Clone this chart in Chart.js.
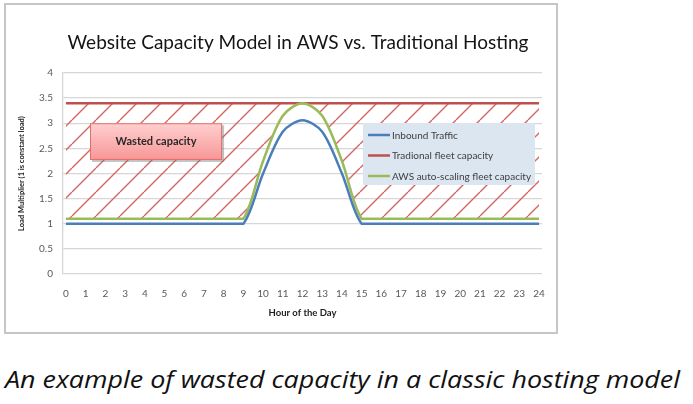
<!DOCTYPE html>
<html>
<head>
<meta charset="utf-8">
<script src="https://cdn.jsdelivr.net/npm/chart.js@4.4.1/dist/chart.umd.min.js"></script>
<style>
  html, body { margin: 0; padding: 0; background: #fff; }
  body { width: 693px; height: 404px; position: relative; overflow: hidden; }
  #frame { position: absolute; left: 4px; top: 3px; width: 550px; height: 327px; border: 2px solid #c6c6c6; }
  #wrap { position: absolute; left: 0; top: 0; width: 693px; height: 340px; }
  #caption { position: absolute; left: 5px; top: 362px; font-family: "Open Sans", Lato, sans-serif; font-style: italic; font-size: 24px; color: #111; white-space: nowrap; transform-origin: 0 0; }
</style>
</head>
<body>
<div id="frame"></div>
<div id="wrap"><canvas id="capacityChart"></canvas></div>
<div id="caption">An example of wasted capacity in a classic hosting model</div>
<script>
const hours = [0, 1, 2, 3, 4, 5, 6, 7, 8, 9, 10, 11, 12, 13, 14, 15, 16, 17, 18, 19, 20, 21, 22, 23, 24];
const inboundTraffic = [1, 1, 1, 1, 1, 1, 1, 1, 1, 1, 2.0, 2.83, 3.06, 2.83, 2.0, 1, 1, 1, 1, 1, 1, 1, 1, 1, 1];
const traditionalCapacity = [3.4, 3.4, 3.4, 3.4, 3.4, 3.4, 3.4, 3.4, 3.4, 3.4, 3.4, 3.4, 3.4, 3.4, 3.4, 3.4, 3.4, 3.4, 3.4, 3.4, 3.4, 3.4, 3.4, 3.4, 3.4];
const awsCapacity = [1.1, 1.1, 1.1, 1.1, 1.1, 1.1, 1.1, 1.1, 1.1, 1.1, 2.25, 3.15, 3.4, 3.15, 2.25, 1.1, 1.1, 1.1, 1.1, 1.1, 1.1, 1.1, 1.1, 1.1, 1.1];
const seriesLabels = ["Inbound Traffic", "Tradional fleet capacity", "AWS auto-scaling fleet capacity"];
const yTicks = [0, 0.5, 1, 1.5, 2, 2.5, 3, 3.5, 4];
const wastedLabel = "Wasted capacity";
const wastedBox = { x0: 1.22, x1: 7.92, y0: 2.27, y1: 3.0 };

const blue = "rgb(74,126,187)";
const red = "rgb(192,80,77)";
const green = "rgb(155,187,89)";
const fontFamily = "Lato, 'Liberation Sans', sans-serif";

// stretch the caption to the width it has in the picture
const caption = document.getElementById("caption");
caption.style.transform = "scaleX(" + (675 / caption.getBoundingClientRect().width) + ")";

// diagonal red hatching for the wasted area
function makeHatch() {
  const size = 24;
  const c = document.createElement("canvas");
  c.width = size;
  c.height = size;
  const g = c.getContext("2d");
  g.strokeStyle = "rgb(212,104,102)";
  g.lineWidth = 1.4;
  [-size, 0, size].forEach((k) => {
    g.beginPath();
    g.moveTo(k, size);
    g.lineTo(k + size, 0);
    g.stroke();
  });
  return g.createPattern(c, "repeat");
}

const toPoints = (arr) => arr.map((v, i) => ({ x: hours[i], y: v }));

// keep the curve from dipping where a flat run meets the ramp:
// the control point on the flat side is pulled onto the point itself
const sharpCorners = {
  id: "sharpCorners",
  beforeDatasetsDraw(chart) {
    chart.data.datasets.forEach((ds, i) => {
      const meta = chart.getDatasetMeta(i);
      if (!ds.tension) return;
      meta.dataset.updateControlPoints(chart.chartArea, "x");
      const pts = meta.data;
      pts.forEach((p, k) => {
        if (k > 0 && pts[k - 1].y === p.y) {
          p.cp1x = p.x;
          p.cp1y = p.y;
        }
        if (k < pts.length - 1 && pts[k + 1].y === p.y) {
          p.cp2x = p.x;
          p.cp2y = p.y;
        }
      });
    });
  },
};

const boxLegend = {
  id: "boxLegend",
  afterDatasetsDraw(chart) {
    const { ctx, chartArea } = chart;
    const left = chartArea.right - 179;
    const top = chartArea.top + 50;
    ctx.save();
    ctx.fillStyle = "rgb(220,230,241)";
    ctx.fillRect(left, top, 172, 62);
    ctx.font = "10px " + fontFamily;
    ctx.textBaseline = "middle";
    chart.data.datasets.forEach((ds, i) => {
      const y = top + 12 + i * 20.5;
      ctx.strokeStyle = ds.borderColor;
      ctx.lineWidth = 2.5;
      ctx.beginPath();
      ctx.moveTo(left + 5, y);
      ctx.lineTo(left + 27, y);
      ctx.stroke();
      ctx.fillStyle = "rgb(64,64,64)";
      ctx.fillText(ds.label, left + 29, y + 0.5);
    });
    ctx.restore();
  },
};

const wastedNote = {
  id: "wastedNote",
  afterDatasetsDraw(chart) {
    const { ctx, scales } = chart;
    const x0 = scales.x.getPixelForValue(wastedBox.x0);
    const x1 = scales.x.getPixelForValue(wastedBox.x1);
    const y0 = scales.y.getPixelForValue(wastedBox.y1);
    const y1 = scales.y.getPixelForValue(wastedBox.y0);
    ctx.save();
    ctx.fillStyle = "rgba(120,120,120,0.45)";
    ctx.fillRect(x0 + 2, y0 + 2, x1 - x0, y1 - y0);
    const grad = ctx.createLinearGradient(0, y0, 0, y1);
    grad.addColorStop(0, "rgb(255,208,208)");
    grad.addColorStop(1, "rgb(248,150,150)");
    ctx.fillStyle = grad;
    ctx.fillRect(x0, y0, x1 - x0, y1 - y0);
    ctx.strokeStyle = "rgb(226,110,108)";
    ctx.lineWidth = 1;
    ctx.strokeRect(x0 + 0.5, y0 + 0.5, x1 - x0 - 1, y1 - y0 - 1);
    ctx.fillStyle = "rgb(40,40,40)";
    ctx.font = "bold 11px " + fontFamily;
    ctx.textAlign = "center";
    ctx.textBaseline = "middle";
    ctx.fillText(wastedLabel, (x0 + x1) / 2, (y0 + y1) / 2);
    ctx.restore();
  },
};

const ctx = document.getElementById("capacityChart");

const config = {
  type: "line",
  data: {
    datasets: [
      {
        label: seriesLabels[0],
        data: toPoints(inboundTraffic),
        borderColor: blue,
        backgroundColor: blue,
        borderWidth: 2.5,
        pointRadius: 0,
        tension: 0.3,
        fill: false,
        order: 1,
      },
      {
        label: seriesLabels[1],
        data: toPoints(traditionalCapacity),
        borderColor: red,
        backgroundColor: red,
        borderWidth: 2.5,
        pointRadius: 0,
        tension: 0,
        fill: { target: 2, above: makeHatch(), below: "rgba(0,0,0,0)" },
        order: 3,
      },
      {
        label: seriesLabels[2],
        data: toPoints(awsCapacity),
        borderColor: green,
        backgroundColor: green,
        borderWidth: 2.5,
        pointRadius: 0,
        tension: 0.3,
        fill: false,
        order: 2,
      },
    ],
  },
  options: {
    responsive: true,
    maintainAspectRatio: false,
    animation: false,
    layout: { padding: { left: 0, right: 97, top: 0, bottom: 0 } },
    plugins: {
      legend: { display: false },
      tooltip: { enabled: false },
      title: {
        display: true,
        text: "Website Capacity Model in AWS vs. Traditional Hosting",
        color: "rgb(20,20,20)",
        font: { family: fontFamily, size: 19, weight: "normal" },
        padding: { top: 31, bottom: 19.2 },
      },
    },
    scales: {
      x: {
        type: "linear",
        min: -0.15,
        max: 24.15,
        afterBuildTicks: (scale) => {
          scale.ticks = hours.map((h) => ({ value: h }));
        },
        afterFit: (scale) => {
          scale.height = 66;
        },
        grid: { display: false },
        border: { display: false },
        ticks: {
          padding: 6,
          color: "rgb(89,89,89)",
          font: { family: fontFamily, size: 10 },
          maxRotation: 0,
          autoSkip: false,
        },
        title: {
          display: true,
          text: "Hour of the Day",
          color: "rgb(30,30,30)",
          font: { family: fontFamily, size: 9.5, weight: "bold" },
          padding: { top: 0, bottom: 21 },
        },
      },
      y: {
        min: 0,
        max: 4,
        afterBuildTicks: (scale) => {
          scale.ticks = yTicks.map((v) => ({ value: v }));
        },
        afterFit: (scale) => {
          scale.width = 63;
        },
        grid: { color: "rgb(214,214,214)", lineWidth: 1.3, drawTicks: false },
        border: { display: true, color: "rgb(214,214,214)", width: 1.3 },
        ticks: {
          padding: 10,
          color: "rgb(89,89,89)",
          font: { family: fontFamily, size: 10 },
          callback: (value) => String(value),
        },
        title: {
          display: true,
          text: "Load Multiplier (1 is constant load)",
          color: "rgb(30,30,30)",
          font: { family: fontFamily, size: 7.5, weight: "bold" },
          padding: { top: 17.5, bottom: 0 },
        },
      },
      // empty right-hand margin so the title centres where it does in the picture
      spacer: {
        type: "linear",
        position: "right",
        min: 0,
        max: 1,
        grid: { display: false },
        border: { display: false },
        ticks: { display: false },
        afterFit: (scale) => {
          scale.width = 54;
        },
      },
    },
  },
  plugins: [sharpCorners, wastedNote, boxLegend],
};

new Chart(ctx, config);
</script>
</body>
</html>
